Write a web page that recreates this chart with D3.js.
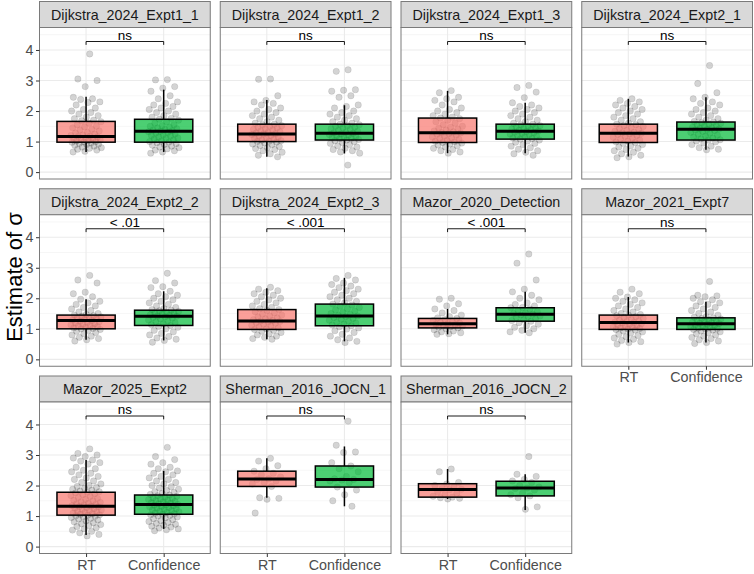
<!DOCTYPE html>
<html>
<head>
<meta charset="utf-8">
<script src="https://cdn.jsdelivr.net/npm/d3@7"></script>
<style>
  body { margin: 0; background: #fff; }
  svg { display: block; font-family: "Liberation Sans", Arial, sans-serif; }
</style>
</head>
<body>
<div id="chart"></div>
<script>
// facet names, in panel order
const studies = [
  'Dijkstra_2024_Expt1_1', 'Dijkstra_2024_Expt1_2', 'Dijkstra_2024_Expt1_3', 'Dijkstra_2024_Expt2_1',
  'Dijkstra_2024_Expt2_2', 'Dijkstra_2024_Expt2_3', 'Mazor_2020_Detection', 'Mazor_2021_Expt7',
  'Mazor_2025_Expt2', 'Sherman_2016_JOCN_1', 'Sherman_2016_JOCN_2'
];
const conditions = ['RT', 'Confidence'];
const sigLabels = ['ns', 'ns', 'ns', 'ns', '< .01', '< .001', '< .001', 'ns', 'ns', 'ns', 'ns'];
const yTicks = [0, 1, 2, 3, 4];

// box stats: [lower whisker, q1, median, q3, upper whisker]
const rtBox = [
  [0.66, 0.98, 1.17, 1.66, 2.47], [0.50, 1.00, 1.25, 1.57, 2.36], [0.62, 0.97, 1.29, 1.77, 2.66], [0.51, 0.97, 1.27, 1.57, 2.40],
  [0.64, 1.00, 1.27, 1.45, 1.97], [0.66, 0.98, 1.26, 1.63, 2.33], [0.82, 1.03, 1.17, 1.34, 1.65], [0.55, 0.98, 1.21, 1.45, 2.04],
  [0.38, 1.03, 1.32, 1.78, 2.84], [1.60, 1.97, 2.21, 2.47, 2.89], [1.56, 1.62, 1.87, 2.06, 2.54]
];
const confBox = [
  [0.66, 0.98, 1.34, 1.73, 2.70], [0.61, 1.05, 1.27, 1.57, 2.19], [0.62, 1.08, 1.34, 1.57, 2.27], [0.73, 1.05, 1.40, 1.64, 2.45],
  [0.62, 1.11, 1.41, 1.61, 2.23], [0.59, 1.10, 1.42, 1.81, 2.67], [0.87, 1.25, 1.48, 1.69, 2.21], [0.55, 0.98, 1.17, 1.36, 1.89],
  [0.58, 1.06, 1.38, 1.69, 2.48], [1.32, 1.95, 2.20, 2.64, 3.28], [1.20, 1.66, 1.92, 2.14, 2.37]
];

// individual estimates (jittered points)
const rtPoints = [
  [3.87,3.05,3.0,2.8,2.45,2.4,2.38,2.3,2.28,2.2,2.1,2.05,2.0,1.95,1.9,1.85,1.8,1.75,1.7,1.68,1.65,1.6,1.55,1.5,1.48,1.45,1.4,1.38,1.35,1.3,1.28,1.25,1.22,1.2,1.18,1.17,1.15,1.12,1.1,1.08,1.06,1.05,1.03,1.02,1.0,0.99,0.98,0.96,0.94,0.92,0.9,0.88,0.85,0.82,0.8,0.78,0.75,0.72,0.68,0.66],
  [3.05,3.04,2.5,2.35,2.3,2.25,2.2,2.1,2.05,2.0,1.95,1.9,1.85,1.8,1.75,1.7,1.65,1.6,1.57,1.55,1.52,1.5,1.47,1.45,1.42,1.4,1.38,1.35,1.32,1.3,1.28,1.26,1.25,1.23,1.2,1.18,1.15,1.12,1.1,1.08,1.05,1.03,1.01,1.0,0.98,0.95,0.92,0.9,0.87,0.84,0.8,0.77,0.74,0.7,0.65,0.6,0.55,0.5],
  [2.67,2.6,2.45,2.4,2.35,2.3,2.2,2.1,2.05,2.0,1.95,1.9,1.85,1.8,1.77,1.75,1.7,1.65,1.6,1.55,1.5,1.47,1.44,1.41,1.38,1.35,1.32,1.3,1.28,1.26,1.24,1.21,1.18,1.15,1.12,1.1,1.07,1.04,1.01,0.99,0.97,0.95,0.92,0.89,0.86,0.82,0.78,0.74,0.7,0.66,0.62],
  [2.4,2.35,2.3,2.25,2.2,2.15,2.1,2.05,2.0,1.95,1.9,1.85,1.8,1.75,1.7,1.65,1.6,1.57,1.55,1.52,1.49,1.46,1.43,1.4,1.37,1.34,1.31,1.29,1.27,1.25,1.23,1.2,1.17,1.14,1.11,1.08,1.05,1.02,0.99,0.97,0.94,0.9,0.86,0.82,0.78,0.74,0.7,0.65,0.6,0.55,0.5,0.47],
  [2.75,2.6,2.5,2.2,2.15,2.05,1.97,1.9,1.85,1.8,1.75,1.7,1.65,1.6,1.55,1.5,1.47,1.45,1.43,1.41,1.39,1.37,1.35,1.33,1.31,1.29,1.27,1.25,1.23,1.21,1.19,1.17,1.15,1.13,1.11,1.09,1.07,1.05,1.03,1.01,1.0,0.98,0.95,0.92,0.88,0.84,0.8,0.76,0.72,0.68,0.64,0.6],
  [2.36,2.3,2.25,2.2,2.15,2.1,2.05,2.0,1.95,1.9,1.85,1.8,1.75,1.7,1.66,1.63,1.6,1.56,1.52,1.48,1.45,1.42,1.39,1.36,1.33,1.3,1.28,1.26,1.24,1.22,1.2,1.18,1.15,1.12,1.09,1.06,1.03,1.0,0.98,0.95,0.92,0.88,0.84,0.8,0.76,0.72,0.68,0.66],
  [2.0,1.97,1.82,1.75,1.65,1.6,1.52,1.45,1.4,1.36,1.34,1.3,1.27,1.24,1.21,1.19,1.17,1.15,1.13,1.11,1.09,1.07,1.05,1.03,1.0,0.97,0.93,0.9,0.87,0.84,0.82],
  [2.3,2.2,2.15,2.04,2.0,1.95,1.9,1.85,1.8,1.75,1.7,1.65,1.6,1.55,1.5,1.47,1.45,1.43,1.4,1.37,1.34,1.31,1.28,1.26,1.24,1.22,1.21,1.19,1.17,1.15,1.13,1.11,1.09,1.07,1.05,1.03,1.01,0.99,0.98,0.96,0.93,0.9,0.86,0.82,0.78,0.74,0.7,0.66,0.62,0.58,0.55,0.5],
  [3.2,3.05,3.0,2.95,2.9,2.84,2.8,2.75,2.7,2.6,2.55,2.5,2.45,2.4,2.35,2.3,2.25,2.2,2.15,2.1,2.05,2.0,1.97,1.94,1.91,1.88,1.85,1.82,1.8,1.78,1.76,1.73,1.7,1.67,1.64,1.61,1.58,1.55,1.52,1.5,1.47,1.45,1.42,1.4,1.38,1.36,1.34,1.32,1.31,1.3,1.28,1.26,1.24,1.22,1.2,1.18,1.16,1.14,1.12,1.1,1.08,1.06,1.04,1.03,1.01,0.99,0.97,0.95,0.92,0.9,0.87,0.84,0.81,0.78,0.75,0.72,0.69,0.66,0.62,0.58,0.54,0.5,0.45,0.4,0.35],
  [2.89,2.8,2.65,2.55,2.47,2.4,2.35,2.28,2.22,2.2,2.15,2.1,2.05,1.97,1.6,1.58,1.55,1.1],
  [2.54,2.45,2.1,2.05,2.0,1.95,1.9,1.88,1.86,1.8,1.75,1.7,1.65,1.62,1.6,1.58,1.56]
];
const confPoints = [
  [3.03,3.02,2.8,2.75,2.65,2.5,2.4,2.3,2.25,2.2,2.15,2.1,2.05,2.0,1.95,1.9,1.85,1.8,1.76,1.73,1.7,1.65,1.6,1.55,1.52,1.5,1.47,1.45,1.42,1.4,1.38,1.36,1.34,1.32,1.3,1.28,1.25,1.22,1.2,1.18,1.15,1.12,1.1,1.08,1.05,1.02,1.0,0.98,0.96,0.93,0.9,0.88,0.85,0.82,0.8,0.76,0.72,0.7,0.66,0.62],
  [3.35,3.3,2.7,2.68,2.65,2.5,2.45,2.2,2.15,2.1,2.0,1.95,1.9,1.85,1.8,1.75,1.7,1.65,1.6,1.57,1.55,1.52,1.5,1.47,1.45,1.42,1.4,1.37,1.34,1.31,1.29,1.27,1.25,1.23,1.21,1.19,1.17,1.15,1.13,1.11,1.09,1.07,1.05,1.03,1.0,0.97,0.94,0.9,0.86,0.82,0.78,0.74,0.7,0.66,0.62,0.23],
  [2.84,2.77,2.62,2.44,2.27,2.2,2.15,2.1,2.05,2.0,1.95,1.9,1.85,1.8,1.75,1.7,1.65,1.6,1.57,1.55,1.52,1.5,1.48,1.45,1.43,1.41,1.39,1.37,1.35,1.33,1.31,1.29,1.27,1.25,1.23,1.2,1.18,1.15,1.12,1.1,1.08,1.05,1.02,0.98,0.94,0.9,0.85,0.8,0.75,0.7,0.65,0.6,0.55],
  [3.49,2.9,2.6,2.45,2.4,2.3,2.25,2.2,2.1,2.05,2.0,1.95,1.9,1.85,1.8,1.75,1.7,1.66,1.64,1.62,1.6,1.57,1.55,1.52,1.5,1.47,1.45,1.43,1.41,1.4,1.38,1.36,1.33,1.3,1.27,1.24,1.21,1.18,1.15,1.12,1.09,1.06,1.05,1.02,0.99,0.95,0.9,0.85,0.8,0.75,0.73],
  [2.82,2.58,2.5,2.38,2.35,2.23,2.15,2.1,2.05,2.0,1.95,1.9,1.85,1.8,1.75,1.7,1.66,1.63,1.61,1.59,1.57,1.55,1.53,1.5,1.48,1.46,1.44,1.42,1.41,1.39,1.37,1.35,1.32,1.29,1.26,1.23,1.2,1.17,1.14,1.11,1.08,1.05,1.0,0.95,0.9,0.85,0.8,0.75,0.7,0.66,0.62,0.56],
  [2.75,2.65,2.6,2.5,2.45,2.4,2.35,2.3,2.25,2.2,2.15,2.1,2.05,2.0,1.95,1.9,1.85,1.81,1.78,1.74,1.7,1.66,1.62,1.58,1.54,1.5,1.47,1.44,1.42,1.4,1.37,1.34,1.31,1.28,1.25,1.22,1.19,1.16,1.13,1.1,1.07,1.03,0.99,0.94,0.88,0.82,0.76,0.7,0.64,0.59,0.55],
  [3.45,3.15,2.6,2.3,2.21,2.1,2.0,1.95,1.85,1.8,1.75,1.7,1.69,1.65,1.6,1.56,1.52,1.5,1.48,1.45,1.42,1.4,1.37,1.33,1.3,1.27,1.25,1.2,1.15,1.1,1.05,1.0,0.95,0.9,0.87],
  [2.55,2.1,2.08,2.05,2.0,1.95,1.89,1.85,1.8,1.75,1.7,1.65,1.6,1.55,1.5,1.45,1.4,1.38,1.36,1.34,1.32,1.3,1.28,1.26,1.24,1.22,1.2,1.18,1.17,1.15,1.13,1.11,1.09,1.07,1.05,1.03,1.01,0.99,0.98,0.96,0.93,0.9,0.87,0.84,0.8,0.76,0.72,0.68,0.64,0.6,0.55,0.52],
  [3.25,2.95,2.85,2.75,2.7,2.6,2.55,2.48,2.45,2.4,2.35,2.3,2.25,2.2,2.15,2.1,2.05,2.0,1.96,1.92,1.88,1.84,1.8,1.77,1.74,1.71,1.69,1.67,1.65,1.62,1.6,1.58,1.56,1.54,1.52,1.5,1.48,1.46,1.44,1.42,1.4,1.38,1.37,1.36,1.34,1.32,1.3,1.28,1.26,1.24,1.22,1.2,1.18,1.16,1.14,1.12,1.1,1.08,1.06,1.04,1.02,1.0,0.97,0.94,0.91,0.88,0.85,0.82,0.79,0.76,0.73,0.7,0.67,0.64,0.61,0.58,0.55,0.52],
  [4.11,3.32,3.1,3.08,2.75,2.64,2.55,2.45,2.3,2.22,2.2,2.18,2.15,2.1,1.95,1.85,1.7,1.5,1.32],
  [2.95,2.37,2.3,2.2,2.15,2.1,2.0,1.95,1.92,1.9,1.85,1.75,1.7,1.66,1.6,1.3,1.22]
];

const W = 754, H = 574;
const gridLeft = 39.5, gridTop = 1.5;
const nCol = 4;
const panelW = 170.75, colGap = 10;
const stripH = 26, plotH = 151.5, rowGap = 9.75;
const fills = {RT: '#F8766D', Confidence: '#00BA38'};
const font = '"Liberation Sans", Arial, sans-serif';
const bracketY = 4.277, bracketTick = 0.11;

const svg = d3.select('#chart').append('svg')
  .attr('width', W)
  .attr('height', H);

const x = d3.scalePoint().domain(conditions).range([0, panelW]).padding(0.6);
const step = x.step();
const y = d3.scaleLinear().domain([-0.226, 4.736]).range([plotH, 0]);

// deterministic horizontal spread for the jitter layer
const spread = i => (((i * 0.6180339887) % 1) * 2 - 1) * 0.2 * step;

studies.forEach((name, i) => {
  const col = i % nCol, row = Math.floor(i / nCol);
  const px = gridLeft + col * (panelW + colGap);
  const py = gridTop + row * (stripH + plotH + rowGap);
  const g = svg.append('g').attr('transform', `translate(${px},${py})`);

  // strip
  g.append('rect')
    .attr('width', panelW).attr('height', stripH)
    .attr('fill', '#D9D9D9').attr('stroke', '#7a7a7a').attr('stroke-width', 1);
  g.append('text')
    .attr('x', panelW / 2).attr('y', stripH / 2 + 5)
    .attr('text-anchor', 'middle')
    .attr('font-size', 14.3).attr('fill', '#1A1A1A')
    .text(name);

  const p = g.append('g').attr('transform', `translate(0,${stripH})`);
  p.append('rect').attr('width', panelW).attr('height', plotH).attr('fill', '#fff');

  // grid
  const minor = d3.range(0.5, 4.75, 1);
  p.selectAll('.minor').data(minor).join('line')
    .attr('x1', 0).attr('x2', panelW)
    .attr('y1', d => y(d)).attr('y2', d => y(d))
    .attr('stroke', '#F0F0F0').attr('stroke-width', 0.6);
  p.selectAll('.major').data(yTicks).join('line')
    .attr('x1', 0).attr('x2', panelW)
    .attr('y1', d => y(d)).attr('y2', d => y(d))
    .attr('stroke', '#EBEBEB').attr('stroke-width', 1.1);
  p.selectAll('.vgrid').data(conditions).join('line')
    .attr('x1', d => x(d)).attr('x2', d => x(d))
    .attr('y1', 0).attr('y2', plotH)
    .attr('stroke', '#EBEBEB').attr('stroke-width', 1.1);

  // points
  conditions.forEach(c => {
    const vals = c === 'RT' ? rtPoints[i] : confPoints[i];
    p.append('g').selectAll('circle').data(vals).join('circle')
      .attr('cx', (d, k) => x(c) + spread(k + 1))
      .attr('cy', d => y(d))
      .attr('r', 3.2)
      .attr('fill', 'rgba(0,0,0,0.17)')
      .attr('stroke', 'rgba(0,0,0,0.14)')
      .attr('stroke-width', 0.6);
  });

  // boxes
  conditions.forEach(c => {
    const [lo, q1, med, q3, hi] = c === 'RT' ? rtBox[i] : confBox[i];
    const cx = x(c), bw = 0.75 * step;
    const b = p.append('g');
    b.append('line').attr('x1', cx).attr('x2', cx).attr('y1', y(q3)).attr('y2', y(hi))
      .attr('stroke', '#000').attr('stroke-width', 1.5);
    b.append('line').attr('x1', cx).attr('x2', cx).attr('y1', y(q1)).attr('y2', y(lo))
      .attr('stroke', '#000').attr('stroke-width', 1.5);
    b.append('rect')
      .attr('x', cx - bw / 2).attr('width', bw)
      .attr('y', y(q3)).attr('height', y(q1) - y(q3))
      .attr('fill', fills[c]).attr('fill-opacity', 0.7)
      .attr('stroke', '#000').attr('stroke-width', 1.5);
    b.append('line').attr('x1', cx - bw / 2).attr('x2', cx + bw / 2)
      .attr('y1', y(med)).attr('y2', y(med))
      .attr('stroke', '#000').attr('stroke-width', 3);
  });

  // significance bracket
  const bx1 = x('RT'), bx2 = x('Confidence');
  p.append('path')
    .attr('d', `M${bx1},${y(bracketY - bracketTick)}V${y(bracketY)}H${bx2}V${y(bracketY - bracketTick)}`)
    .attr('fill', 'none').attr('stroke', '#000').attr('stroke-width', 0.9);
  p.append('text')
    .attr('x', (bx1 + bx2) / 2).attr('y', y(bracketY) - 2)
    .attr('text-anchor', 'middle')
    .attr('font-size', 13.5).attr('fill', '#000')
    .text(sigLabels[i]);

  // border
  p.append('rect').attr('width', panelW).attr('height', plotH)
    .attr('fill', 'none').attr('stroke', '#7a7a7a').attr('stroke-width', 1);

  // y axis on the first column
  if (col === 0) {
    const ax = p.append('g').call(d3.axisLeft(y).tickValues(yTicks).tickFormat(d3.format('d')).tickSize(3.5).tickPadding(2.5));
    ax.select('.domain').remove();
    ax.selectAll('line').attr('stroke', '#333');
    ax.selectAll('text').attr('font-size', 14.3).attr('fill', '#4D4D4D').attr('font-family', font);
  }
  // x axis where no panel sits below
  if (i + nCol >= studies.length) {
    const ax = p.append('g').attr('transform', `translate(0,${plotH})`)
      .call(d3.axisBottom(x).tickSize(3.5).tickPadding(2.5));
    ax.select('.domain').remove();
    ax.selectAll('line').attr('stroke', '#333');
    ax.selectAll('text').attr('font-size', 14.3).attr('fill', '#4D4D4D').attr('font-family', font);
  }
});

// y title
svg.append('text')
  .attr('transform', `translate(14,277) rotate(-90)`)
  .attr('text-anchor', 'middle')
  .attr('dy', '0.35em')
  .attr('font-size', 22).attr('fill', '#000')
  .text('Estimate of σ');
</script>
</body>
</html>
